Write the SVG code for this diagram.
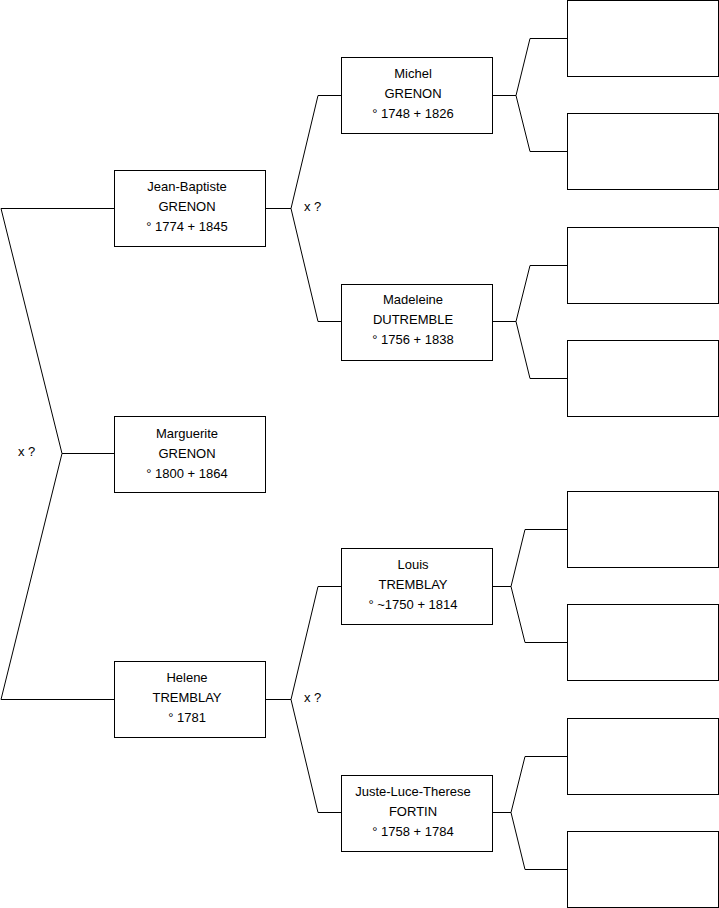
<svg xmlns="http://www.w3.org/2000/svg" width="719" height="908" viewBox="0 0 719 908">
<style>
.box{fill:#fff;stroke:#000;stroke-width:1}
.ln{fill:none;stroke:#000;stroke-width:1}
text{font-family:"Liberation Sans",Arial,sans-serif;font-size:13px;fill:#000}
.c{text-anchor:middle}
</style>
<rect width="719" height="908" fill="#fff"/>
<g id="connectors" class="ln">
<polyline points="114,208.5 1,208.5 62,453.5 1,699.5 114,699.5"/>
<line x1="62" y1="453.5" x2="114" y2="453.5"/>
<polyline points="341,95.5 318,95.5 291,208.5 318,321.5 341,321.5"/>
<line x1="265" y1="208.5" x2="291" y2="208.5"/>
<polyline points="341,586.5 318,586.5 291,699.5 318,812.5 341,812.5"/>
<line x1="265" y1="699.5" x2="291" y2="699.5"/>
<polyline points="567,38.5 530,38.5 516,95.5 530,151.5 567,151.5"/>
<line x1="492" y1="95.5" x2="516" y2="95.5"/>
<polyline points="567,265.5 530,265.5 516,321.5 530,378.5 567,378.5"/>
<line x1="492" y1="321.5" x2="516" y2="321.5"/>
<polyline points="567,529.5 525,529.5 511,586.5 525,642.5 567,642.5"/>
<line x1="492" y1="586.5" x2="511" y2="586.5"/>
<polyline points="567,756.5 525,756.5 511,812.5 525,869.5 567,869.5"/>
<line x1="492" y1="812.5" x2="511" y2="812.5"/>
</g>
<g id="labels">
<text x="18" y="456">x ?</text>
<text x="304" y="211">x ?</text>
<text x="304" y="702">x ?</text>
</g>
<g id="jb"><rect class="box" x="114.5" y="170.5" width="151" height="76"/>
<text class="c" x="187" y="191">Jean-Baptiste</text><text class="c" x="187" y="211">GRENON</text><text class="c" x="187" y="231">° 1774 + 1845</text></g>
<g id="marguerite"><rect class="box" x="114.5" y="416.5" width="151" height="76"/>
<text class="c" x="187" y="438">Marguerite</text><text class="c" x="187" y="458">GRENON</text><text class="c" x="187" y="478">° 1800 + 1864</text></g>
<g id="helene"><rect class="box" x="114.5" y="661.5" width="151" height="76"/>
<text class="c" x="187" y="682">Helene</text><text class="c" x="187" y="702">TREMBLAY</text><text class="c" x="187" y="722">° 1781</text></g>
<g id="michel"><rect class="box" x="341.5" y="57.5" width="151" height="76"/>
<text class="c" x="413" y="78">Michel</text><text class="c" x="413" y="98">GRENON</text><text class="c" x="413" y="118">° 1748 + 1826</text></g>
<g id="madeleine"><rect class="box" x="341.5" y="284.5" width="151" height="76"/>
<text class="c" x="413" y="304">Madeleine</text><text class="c" x="413" y="324">DUTREMBLE</text><text class="c" x="413" y="344">° 1756 + 1838</text></g>
<g id="louis"><rect class="box" x="341.5" y="548.5" width="151" height="76"/>
<text class="c" x="413" y="569">Louis</text><text class="c" x="413" y="589">TREMBLAY</text><text class="c" x="413" y="609">° ~1750 + 1814</text></g>
<g id="juste"><rect class="box" x="341.5" y="775.5" width="151" height="76"/>
<text class="c" x="413" y="796">Juste-Luce-Therese</text><text class="c" x="413" y="816">FORTIN</text><text class="c" x="413" y="836">° 1758 + 1784</text></g>
<g id="e1"><rect class="box" x="567.5" y="0.5" width="151" height="76"/></g>
<g id="e2"><rect class="box" x="567.5" y="113.5" width="151" height="76"/></g>
<g id="e3"><rect class="box" x="567.5" y="227.5" width="151" height="76"/></g>
<g id="e4"><rect class="box" x="567.5" y="340.5" width="151" height="76"/></g>
<g id="e5"><rect class="box" x="567.5" y="491.5" width="151" height="76"/></g>
<g id="e6"><rect class="box" x="567.5" y="604.5" width="151" height="76"/></g>
<g id="e7"><rect class="box" x="567.5" y="718.5" width="151" height="76"/></g>
<g id="e8"><rect class="box" x="567.5" y="831.5" width="151" height="76"/></g>
</svg>
